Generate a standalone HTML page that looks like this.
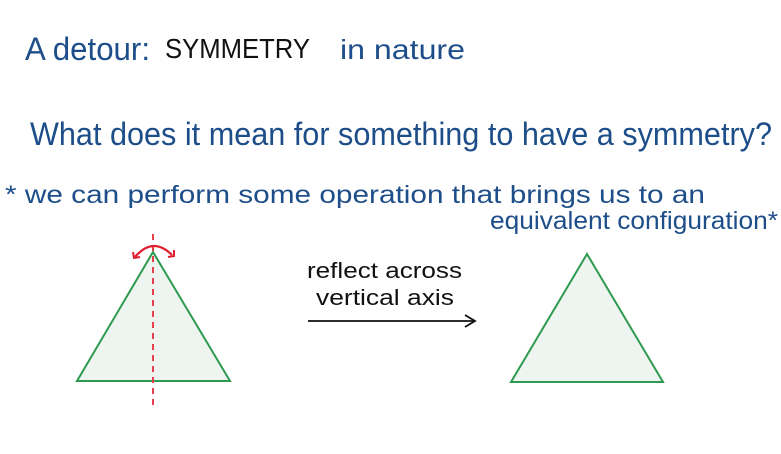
<!DOCTYPE html>
<html><head><style>
html,body{margin:0;padding:0;background:#fff;width:781px;height:454px;overflow:hidden}
text{font-family:"Liberation Sans Narrow","Liberation Sans",sans-serif;fill:#1d4e89}
</style></head><body>
<svg width="781" height="454" viewBox="0 0 781 454" xmlns="http://www.w3.org/2000/svg">
<rect width="781" height="454" fill="#fff"/>
<text x="25" y="60" font-size="32" textLength="125" lengthAdjust="spacingAndGlyphs">A detour:</text>
<text x="165" y="58" font-size="28" textLength="145" lengthAdjust="spacingAndGlyphs" style="fill:#111">SYMMETRY</text>
<text x="340" y="59" font-size="28" textLength="125" lengthAdjust="spacingAndGlyphs">in nature</text>
<text x="30" y="145" font-size="32" textLength="742" lengthAdjust="spacingAndGlyphs">What does it mean for something to have a symmetry?</text>
<text x="5" y="203" font-size="25" textLength="700" lengthAdjust="spacingAndGlyphs">* we can perform some operation that brings us to an</text>
<text x="490" y="229" font-size="25" textLength="288" lengthAdjust="spacingAndGlyphs">equivalent configuration*</text>
<text x="307" y="278" font-size="22" textLength="155" lengthAdjust="spacingAndGlyphs" style="fill:#111">reflect across</text>
<text x="316" y="305" font-size="22" textLength="138" lengthAdjust="spacingAndGlyphs" style="fill:#111">vertical axis</text>
<line x1="308" y1="321" x2="474" y2="321" stroke="#111" stroke-width="1.8"/>
<path d="M465 315 L475 321 L465 327" fill="none" stroke="#111" stroke-width="1.8"/>
<polygon points="153,252 77,381 230,381" fill="#eef5f0" stroke="#2e9a4f" stroke-width="2"/>
<polygon points="587,254 511,382 663,382" fill="#eef5f0" stroke="#2e9a4f" stroke-width="2"/>
<line x1="153" y1="234" x2="153" y2="405" stroke="#e8404f" stroke-width="2" stroke-dasharray="6,5"/>
<path d="M135 257 Q153 236 172 255" fill="none" stroke="#e02030" stroke-width="2.2"/>
<path d="M133 252 L134 258 L140 257" fill="none" stroke="#e02030" stroke-width="2"/>
<path d="M168 257 L174 256 L174 250" fill="none" stroke="#e02030" stroke-width="2"/>
</svg>
</body></html>
